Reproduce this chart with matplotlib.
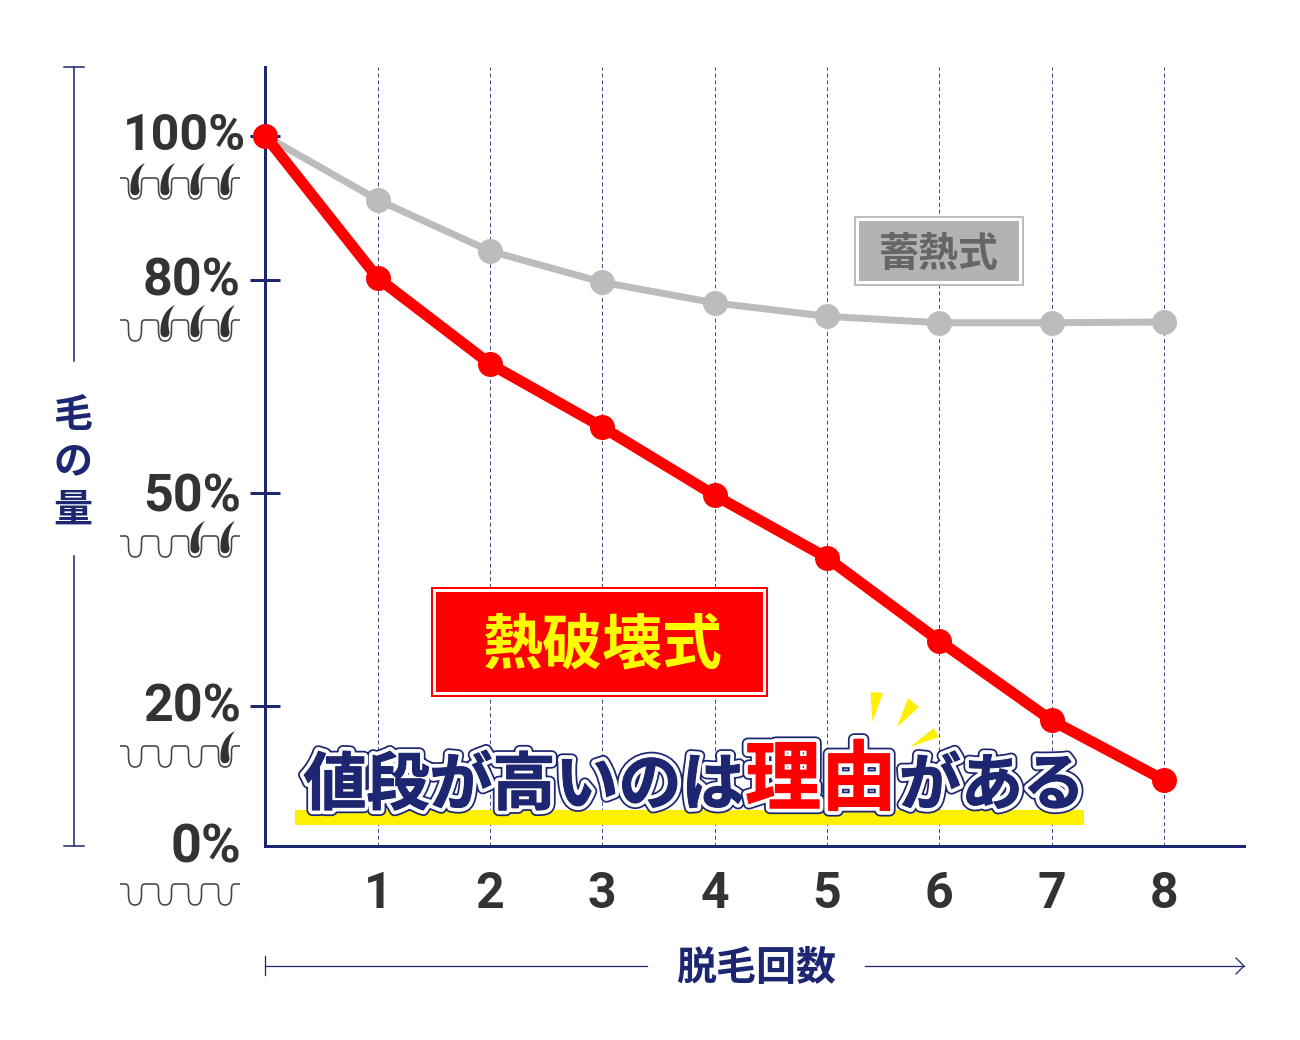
import matplotlib
matplotlib.use("Agg")
import matplotlib.pyplot as plt
import matplotlib.patheffects as pe
from matplotlib.patches import PathPatch, Rectangle, Polygon
from matplotlib.path import Path

plt.rcParams['font.family'] = ['Noto Sans CJK JP', 'DejaVu Sans']

sessions = [0, 1, 2, 3, 4, 5, 6, 7, 8]
heat_destruction = [100, 80, 67.9, 59.0, 49.4, 40.6, 28.9, 17.7, 9.3]
heat_storage = [100, 91, 83.8, 79.4, 76.5, 74.6, 73.7, 73.7, 73.8]
x_tick_values = [1, 2, 3, 4, 5, 6, 7, 8]
y_tick_values = [100, 79.7, 49.7, 19.7]
y_labels = ['100%', '80%', '50%', '20%', '0%']
hair_counts = [4, 3, 2, 1, 0]
headline_runs = ['値段が高いのは', '理由', 'がある']

NAVY = '#1d2671'
DARK = '#333333'
W, H = 1300, 1040
fig = plt.figure(figsize=(W / 100, H / 100), dpi=100, facecolor='white')
px = 0.72  # points per pixel at dpi 100

# ---- data axes
L, R, B, T = 265.4, 1244, 846, 67
ax = fig.add_axes([L / W, 1 - B / H, (R - L) / W, (B - T) / H], facecolor='none')
ax.set_xlim(0, (R - L) / 112.3)
ax.set_ylim(0, (B - T) / 7.1)
for s in ('top', 'right'):
    ax.spines[s].set_visible(False)
for s in ('left', 'bottom'):
    ax.spines[s].set_color(NAVY)
    ax.spines[s].set_linewidth(3 * px)

ax.vlines(x_tick_values, 0, (B - T) / 7.1, color='#3a4290', lw=0.7, linestyles=(0, (4, 3)), zorder=1)

ax.set_xticks(x_tick_values)
ax.set_xticklabels([str(v) for v in x_tick_values], family='Roboto', weight='bold',
                   fontsize=50 * px, color=DARK)
ax.tick_params(axis='x', length=0, pad=18)
ax.set_yticks(y_tick_values)
ax.set_yticklabels([])
ax.tick_params(axis='y', direction='inout', length=30 * px, width=3 * px, color=NAVY)
ax.get_yticklines()[0].set_color('#009688')

ax.plot(sessions, heat_storage, color='#bcbcbc', lw=7 * px, marker='o', ms=25 * px,
        mew=0, zorder=3, clip_on=False)
ax.plot(sessions, heat_destruction, color='#ff0000', lw=11 * px, marker='o', ms=25 * px,
        mew=0, zorder=4, clip_on=False)

# ---- decoration layer in pixel coordinates
ov = fig.add_axes([0, 0, 1, 1], facecolor='none')
ov.set_xlim(0, W)
ov.set_ylim(H, 0)
ov.axis('off')


def hair_row(y0, n_hair):
    xs = [135, 165, 195, 225]
    verts, codes = [(120, y0)], [Path.MOVETO]
    for c in xs:
        verts += [(c - 10, y0),
                  (c - 6.5, y0), (c - 6.5, y0 + 3), (c - 6.5, y0 + 7),
                  (c - 6.5, y0 + 13), (c - 7, y0 + 21), (c, y0 + 21),
                  (c + 7, y0 + 21), (c + 6.5, y0 + 13), (c + 6.5, y0 + 7),
                  (c + 6.5, y0 + 3), (c + 6.5, y0), (c + 10, y0)]
        codes += [Path.LINETO] + [Path.CURVE4] * 12
    verts.append((240, y0))
    codes.append(Path.LINETO)
    ov.add_patch(PathPatch(Path(verts, codes), fc='none', ec='#444444', lw=1.6 * px, zorder=2))
    for c in xs[4 - n_hair:]:
        hv = [(c - 4.5, y0 + 12), (c - 5, y0 + 2), (c - 1, y0 - 10), (c + 10, y0 - 15),
              (c + 4, y0 - 8), (c + 2, y0 + 2), (c + 4.5, y0 + 12),
              (c + 5, y0 + 19), (c - 5, y0 + 19), (c - 4.5, y0 + 12)]
        hc = [Path.MOVETO] + [Path.CURVE4] * 9
        ov.add_patch(PathPatch(Path(hv, hc), fc=DARK, ec='none', zorder=3))


label_right = [246, 241, 241, 241, 241]
label_size = [50, 52, 52, 52, 54]
label_y = [137, 281, 498, 708, 848]
row_y = [178, 320, 536, 746, 884]
for lab, xr, fs, ly, ry, n in zip(y_labels, label_right, label_size, label_y, row_y, hair_counts):
    ov.text(xr, ly, lab, ha='right', va='center', family='Roboto', weight='bold',
            fontsize=fs * px, color=DARK)
    hair_row(ry, n)

# left bracket
ov.plot([74, 74], [67, 361], color=NAVY, lw=1.1)
ov.plot([74, 74], [556, 846], color=NAVY, lw=1.1)
ov.plot([64, 84], [67, 67], color=NAVY, lw=1.1)
ov.plot([64, 84], [846, 846], color=NAVY, lw=1.1)
for ch, y in zip(['毛', 'の', '量'], [415, 462, 510]):
    ov.text(73, y, ch, ha='center', va='center', weight='bold', fontsize=39 * px, color=NAVY)

# x arrow
ov.plot([265, 265], [956, 975], color=NAVY, lw=0.9)
ov.plot([265, 647], [966, 966], color=NAVY, lw=0.9)
ov.plot([865, 1244], [966, 966], color=NAVY, lw=0.9)
ov.plot([1236, 1244, 1236], [958, 966, 974], color=NAVY, lw=0.9)
ov.text(756, 968, '脱毛回数', ha='center', va='center', weight='bold', fontsize=40 * px, color=NAVY)

# grey label box
ov.add_patch(Rectangle((855, 217), 168, 68, fc='white', ec='#bdbdbd', lw=2 * px, zorder=5))
ov.add_patch(Rectangle((859, 221), 160, 60, fc='#b3b3b3', ec='none', zorder=6))
ov.text(939, 255, '蓄熱式', ha='center', va='center', weight='bold', fontsize=40 * px,
        color='#666666', zorder=7)

# red label box
ov.add_patch(Rectangle((432, 588), 335, 108, fc='white', ec='#ff0000', lw=2 * px, zorder=5))
ov.add_patch(Rectangle((436, 592), 327, 100, fc='#ff0000', ec='none', zorder=6))
ov.text(602, 646, '熱破壊式', ha='center', va='center', weight='bold', fontsize=60 * px,
        color='#ffff00', zorder=7)

# headline
ov.add_patch(Rectangle((295, 810), 789, 15, fc='#fff000', ec='none', zorder=5))
for tri in ([(870.5, 692), (883, 693), (872.5, 722)],
            [(908, 698), (919, 707), (897, 727)],
            [(934, 728), (939, 737), (910, 747)]):
    ov.add_patch(Polygon(tri, closed=True, fc='#fff000', ec='none', zorder=5))

run_x = [524, 821, 992]
run_y = [786, 781, 786]
run_size = [63, 76, 62]
run_col = [NAVY, '#ff0000', NAVY]
for run, x, y, s, c in zip(headline_runs, run_x, run_y, run_size, run_col):
    ov.text(x, y, run, ha='center', va='center', weight='bold', fontsize=s * px, color=c,
            zorder=8,
            path_effects=[pe.Stroke(linewidth=12 * px, foreground=NAVY),
                          pe.Stroke(linewidth=8.5 * px, foreground='white'),
                          pe.withStroke(linewidth=1 * px, foreground=c)])

fig.savefig('out.png', dpi=100, facecolor='white')
